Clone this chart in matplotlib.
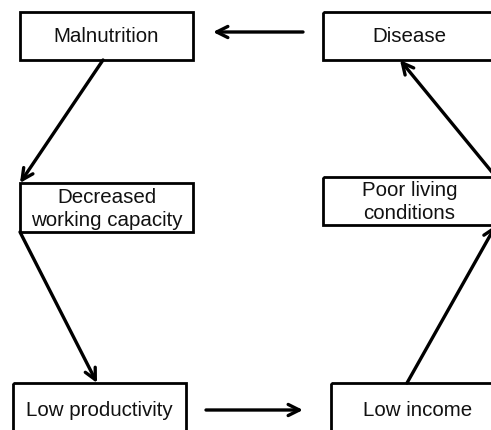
import matplotlib.pyplot as plt
from matplotlib.patches import Rectangle, FancyArrowPatch

plt.rcParams["font.family"] = ["Liberation Sans", "DejaVu Sans"]

# node labels of the cycle
LABELS = [
    "Malnutrition",
    "Disease",
    "Decreased\nworking capacity",
    "Poor living\nconditions",
    "Low productivity",
    "Low income",
]

# box layout in pixel coords (x0, y0, x1, y1), y measured from the top
BOXES = [
    (20, 12, 193, 60),
    (323, 12, 496, 60),
    (20, 183, 193, 232),
    (323, 177, 496, 225),
    (13, 383, 186, 440),
    (331, 383, 504, 440),
]
TEXT_Y = [36, 36, 209, 202, 410, 410]

# arrows: (start, end) in pixel coords
ARROWS = [
    ((303, 32), (213, 32)),
    ((103, 60), (20, 183)),
    ((20, 232), (97, 383)),
    ((206, 410), (303, 410)),
    ((407, 383), (496, 225)),
    ((496, 177), (400, 60)),
]

W, H = 491, 430
FONT_SIZE = 14.8

fig = plt.figure(figsize=(W / 100, H / 100), dpi=100)
ax = fig.add_axes([0, 0, 1, 1])
ax.set_xlim(0, W)
ax.set_ylim(H, 0)
ax.axis("off")

for label, (x0, y0, x1, y1), ty in zip(LABELS, BOXES, TEXT_Y):
    ax.add_patch(Rectangle((x0, y0), x1 - x0, y1 - y0, fill=False,
                           edgecolor="black", linewidth=2.0))
    ax.text((x0 + x1) / 2, ty, label, ha="center", va="center",
            fontsize=FONT_SIZE, linespacing=1.3, color="#111111")

for start, end in ARROWS:
    ax.add_patch(FancyArrowPatch(start, end,
                                 arrowstyle="->,head_length=0.8,head_width=0.4",
                                 mutation_scale=10, linewidth=2.4,
                                 color="black", shrinkA=0, shrinkB=0))

fig.savefig("out.png", dpi=100)
